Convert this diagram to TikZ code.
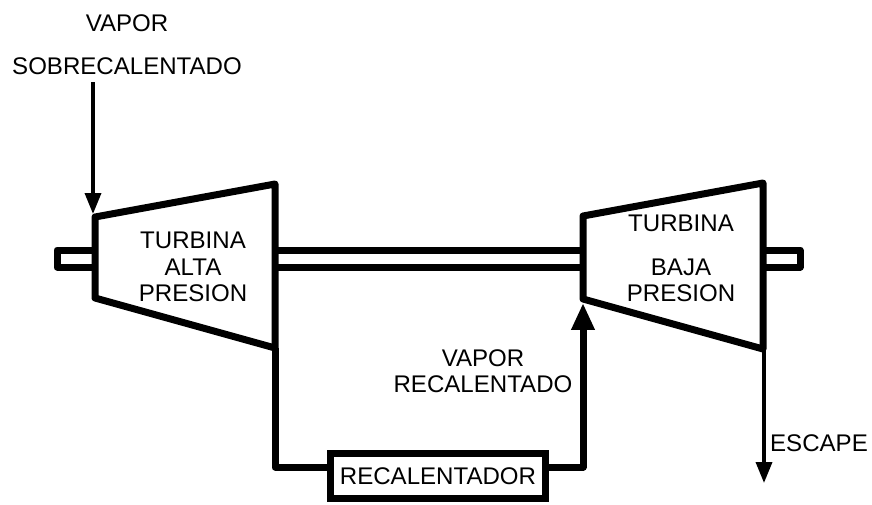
\documentclass[tikz,border=0pt]{standalone}
\usepackage{fontspec}
\setmainfont{Liberation Sans}
\usetikzlibrary{arrows.meta, positioning}

\begin{document}
\begin{tikzpicture}[
        x=0.02cm, y=-0.02cm,
        wall/.style={line width=0.14cm, line join=round},
        label/.style={font=\fontsize{13.7}{15}\selectfont, align=center, inner sep=0pt},
        heater/.style={draw, line width=0.13cm, minimum width=4.3cm, minimum height=0.9cm, inner sep=0pt, font=\fontsize{13.7}{15}\selectfont},
        thinarrow/.style={-{Triangle[length=0.42cm, width=0.32cm]}, line width=0.07cm},
        thickarrow/.style={-{Triangle[length=0.54cm, width=0.44cm]}, line width=0.14cm, line join=round, shorten >=0.08cm}
    ]
        \useasboundingbox (0,0) rectangle (872,504);
        % corners of the two turbines
        \coordinate (hpA) at (95,217);
        \coordinate (hpB) at (275,184);
        \coordinate (hpC) at (275,348);
        \coordinate (hpD) at (95,298);
        \coordinate (lpA) at (583,216);
        \coordinate (lpB) at (763,183);
        \coordinate (lpC) at (763,349);
        \coordinate (lpD) at (583,299);
        \draw[wall] (hpA) -- (hpB) -- (hpC) -- (hpD) -- cycle;
        \draw[wall] (lpA) -- (lpB) -- (lpC) -- (lpD) -- cycle;
        % shaft
        \draw[wall] (95,250) -- (57,250) -- (57,267) -- (95,267);
        \draw[wall] (275,250) -- (583,250);
        \draw[wall] (275,267) -- (583,267);
        \draw[wall] (763,250) -- (800,250) -- (800,267) -- (763,267);
        % labels
        \node[label] (hptext) at (193,267) {TURBINA\\ALTA\\PRESION};
        \node[label] (lptop) at (681,223) {TURBINA};
        \node[label, below=0.53cm of lptop] (lptext) {BAJA\\PRESION};
        \node[label] (steam) at (127,23) {VAPOR};
        \node[label, below=0.5cm of steam] (superheated) {SOBRECALENTADO};
        \node[label] (reheated) at (483,371) {VAPOR\\RECALENTADO};
        \node[label] (escape) at (819,443) {ESCAPE};
        \node[heater] (reheater) at (438,476) {RECALENTADOR};
        % connectors
        \coordinate (steamin) at (93,82);
        \coordinate (steamend) at (93,214);
        \coordinate (escapeout) at (764,483);
        \draw[thinarrow] (steamin) -- (steamend);
        \draw[thinarrow] ([xshift=0.02cm]lpC) -- (escapeout);
        \draw[wall] (hpC) |- ([yshift=0.18cm]reheater.west);
        \draw[thickarrow] ([yshift=0.18cm]reheater.east) -| (lpD);
    \end{tikzpicture}
\end{document}
